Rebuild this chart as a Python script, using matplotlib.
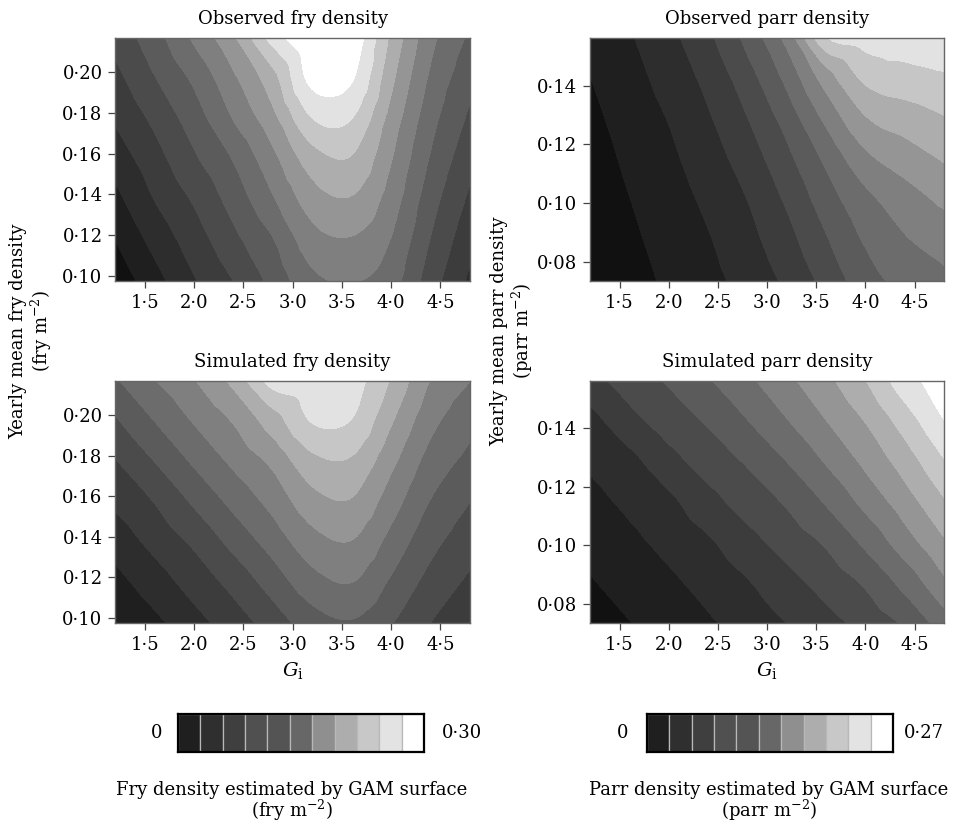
import numpy as np
import matplotlib
matplotlib.use("Agg")
import matplotlib.pyplot as plt
import matplotlib.tri as mtri
from matplotlib.ticker import FuncFormatter, FixedLocator

plt.rcParams['font.family'] = ['DejaVu Serif']
plt.rcParams['mathtext.fontset'] = 'dejavuserif'

# ---------------- data ----------------
G_i = [1.2, 1.6, 2.0, 2.4, 2.8, 3.2, 3.6, 4.0, 4.4, 4.8]
fry_y = [0.0976, 0.1175, 0.1373, 0.1572, 0.1770, 0.1969, 0.2167]
parr_y = [0.0734, 0.0872, 0.1010, 0.1148, 0.1286, 0.1424, 0.1562]

N_BANDS = 13
FRY_MAX = 0.30
PARR_MAX = 0.27

# surface values read from the shading, in grey-band units (rows: bottom -> top)
obs_fry_bands = [
    [0.30, 1.60, 2.90, 4.00, 5.29, 6.73, 7.05, 6.40, 4.48, 2.80],
    [0.99, 2.31, 3.50, 4.72, 5.93, 7.58, 7.90, 6.95, 4.95, 3.30],
    [1.70, 3.01, 4.11, 5.39, 6.88, 8.50, 8.90, 7.50, 5.42, 3.80],
    [2.42, 3.59, 4.83, 6.05, 7.70, 9.50, 9.90, 8.05, 5.90, 4.30],
    [3.10, 4.22, 5.49, 7.03, 8.67, 10.97, 11.00, 8.60, 6.36, 4.80],
    [3.68, 4.94, 6.20, 7.81, 9.63, 12.30, 12.10, 9.25, 6.83, 5.30],
    [4.33, 5.59, 7.15, 8.85, 11.40, 12.90, 12.70, 9.80, 7.30, 5.80],
]
sim_fry_bands = [
    [1.00, 1.75, 2.63, 3.50, 4.44, 5.50, 5.90, 5.05, 4.00, 3.20],
    [1.66, 2.51, 3.40, 4.31, 5.43, 6.60, 7.00, 5.85, 4.65, 3.80],
    [2.40, 3.29, 4.17, 5.29, 6.41, 7.60, 7.95, 6.65, 5.30, 4.40],
    [3.19, 4.03, 5.14, 6.27, 7.32, 8.60, 8.90, 7.45, 5.95, 5.00],
    [3.92, 5.00, 6.14, 7.20, 8.23, 9.70, 9.85, 8.25, 6.60, 5.70],
    [4.86, 6.00, 7.07, 8.07, 9.50, 11.05, 10.95, 9.10, 7.30, 6.30],
    [5.86, 6.95, 7.93, 9.26, 11.40, 11.70, 11.45, 9.90, 7.96, 7.00],
]
obs_parr_bands = [
    [0.10, 0.63, 1.16, 1.70, 2.35, 3.19, 4.32, 5.56, 6.31, 6.81],
    [0.25, 0.80, 1.35, 1.92, 2.68, 3.65, 4.90, 6.10, 6.90, 7.33],
    [0.40, 0.98, 1.57, 2.20, 3.00, 4.14, 5.50, 6.71, 7.50, 8.20],
    [0.55, 1.18, 1.79, 2.53, 3.47, 4.72, 6.20, 7.71, 8.48, 9.07],
    [0.75, 1.40, 2.04, 2.88, 3.97, 5.40, 7.22, 8.90, 9.45, 9.92],
    [0.98, 1.64, 2.38, 3.29, 4.57, 6.25, 8.45, 10.20, 10.60, 10.85],
    [1.20, 1.90, 2.72, 3.79, 5.29, 7.33, 10.90, 11.50, 11.55, 11.60],
]
sim_parr_bands = [
    [0.52, 0.97, 1.42, 1.87, 2.41, 3.00, 3.66, 4.35, 5.15, 6.52],
    [0.92, 1.37, 1.81, 2.34, 2.93, 3.65, 4.38, 5.14, 6.32, 7.79],
    [1.32, 1.77, 2.28, 2.86, 3.65, 4.41, 5.13, 6.21, 7.53, 8.86],
    [1.71, 2.20, 2.78, 3.64, 4.43, 5.12, 6.09, 7.29, 8.51, 9.88],
    [2.14, 2.71, 3.63, 4.44, 5.11, 6.00, 7.08, 8.22, 9.45, 10.92],
    [2.65, 3.63, 4.47, 5.11, 5.96, 6.93, 7.97, 9.03, 10.45, 11.96],
    [3.59, 4.49, 5.10, 5.90, 6.78, 7.75, 8.73, 9.97, 11.56, 12.50],
]

xticks = [1.5, 2.0, 2.5, 3.0, 3.5, 4.0, 4.5]
fry_yticks = [0.10, 0.12, 0.14, 0.16, 0.18, 0.20]
parr_yticks = [0.08, 0.10, 0.12, 0.14]

greys = ['#111111', '#1f1f1f', '#2d2d2d', '#3c3c3c', '#4b4b4b', '#5b5b5b',
         '#6c6c6c', '#7f7f7f', '#959595', '#adadad', '#c6c6c6', '#e2e2e2',
         '#ffffff']
cbar_greys = ['#1f1f1f', '#2f2f2f', '#3f3f3f', '#505050', '#545454', '#676767',
              '#8f8f8f', '#adadad', '#c8c8c8', '#e3e3e3', '#ffffff']

# ---------------- figure ----------------
W, H = 964, 821
fig = plt.figure(figsize=(W / 100, H / 100), dpi=100)


def px_axes(l, t, r, b):
    return fig.add_axes([l / W, 1 - b / H, (r - l) / W, (b - t) / H])


def fmt1(v, pos):
    return f"{v:.1f}".replace('.', '\u00b7')


def fmt2(v, pos):
    return f"{v:.2f}".replace('.', '\u00b7')


FS = 13


def panel(box, bands, yvals, vmax, yticks, title):
    ax = px_axes(*box)
    z = np.array(bands, dtype=float) * vmax / N_BANDS
    # triangulate the grid in normalised coordinates so the smoothing is isotropic
    xx, yy = np.meshgrid(G_i, yvals)
    xn = (xx - G_i[0]) / (G_i[-1] - G_i[0])
    yn = (yy - yvals[0]) / (yvals[-1] - yvals[0]) * 0.68
    tri = mtri.Triangulation(xn.ravel(), yn.ravel())
    interp = mtri.CubicTriInterpolator(tri, z.ravel(), kind='geom')
    rtri, rz = mtri.UniformTriRefiner(tri).refine_field(z.ravel(), interp, subdiv=4)
    rx = G_i[0] + rtri.x * (G_i[-1] - G_i[0])
    ry = yvals[0] + rtri.y / 0.68 * (yvals[-1] - yvals[0])
    rtri2 = mtri.Triangulation(rx, ry, rtri.triangles)
    levels = list(np.linspace(0, vmax, N_BANDS + 1))
    levels[0] = -1.0
    levels[-1] = 10.0
    ax.tricontourf(rtri2, rz, levels=levels, colors=greys, antialiased=False)
    ax.set_xlim(G_i[0], G_i[-1])
    ax.set_ylim(yvals[0], yvals[-1])
    ax.xaxis.set_major_locator(FixedLocator(xticks))
    ax.yaxis.set_major_locator(FixedLocator(yticks))
    ax.xaxis.set_major_formatter(FuncFormatter(fmt1))
    ax.yaxis.set_major_formatter(FuncFormatter(fmt2))
    ax.tick_params(direction='out', length=5, width=0.9, color='#444444',
                   labelsize=FS, pad=4)
    for s in ax.spines.values():
        s.set_color('#666666')
        s.set_linewidth(1.0)
    ax.set_title(title, fontsize=FS, pad=10)
    return ax


panel((115, 38, 470, 281), obs_fry_bands, fry_y, FRY_MAX, fry_yticks,
      'Observed fry density')
panel((590, 38, 944, 281), obs_parr_bands, parr_y, PARR_MAX, parr_yticks,
      'Observed parr density')
a3 = panel((115, 381, 470, 623), sim_fry_bands, fry_y, FRY_MAX, fry_yticks,
           'Simulated fry density')
a4 = panel((590, 381, 944, 623), sim_parr_bands, parr_y, PARR_MAX, parr_yticks,
           'Simulated parr density')
for a in (a3, a4):
    a.set_xlabel(r'$G_{\mathrm{i}}$', fontsize=FS + 1, labelpad=5)


def ftext(x, y, s, **kw):
    fig.text(x / W, 1 - y / H, s, fontsize=FS, **kw)


# y labels
ftext(18, 331, 'Yearly mean fry density', rotation=90, ha='center', va='center')
ftext(41, 331, '(fry m$^{-2}$)', rotation=90, ha='center', va='center')
ftext(499, 331, 'Yearly mean parr density', rotation=90, ha='center', va='center')
ftext(522, 331, '(parr m$^{-2}$)', rotation=90, ha='center', va='center')


def colorbar(l, r, lo_label, hi_label, lo_x, hi_x):
    ax = px_axes(l, 714, r, 752)
    ax.bar(range(len(cbar_greys)), [1] * len(cbar_greys), width=1.0,
           color=cbar_greys, edgecolor='#b8b8b8', linewidth=0.9, align='center')
    ax.set_xlim(-0.5, len(cbar_greys) - 0.5)
    ax.set_ylim(0, 1)
    ax.set_xticks([])
    ax.set_yticks([])
    for s in ax.spines.values():
        s.set_color('black')
        s.set_linewidth(1.6)
    ftext(lo_x, 733, lo_label, ha='center', va='center')
    ftext(hi_x, 733, hi_label, ha='center', va='center')


colorbar(178, 424, '0', '0\u00b730', 157, 462)
colorbar(647, 893, '0', '0\u00b727', 623, 924)

ftext(292, 790, 'Fry density estimated by GAM surface', ha='center', va='center')
ftext(292, 810, '(fry m$^{-2}$)', ha='center', va='center')
ftext(769, 790, 'Parr density estimated by GAM surface', ha='center', va='center')
ftext(769, 810, '(parr m$^{-2}$)', ha='center', va='center')

fig.savefig('out.png', dpi=100)
